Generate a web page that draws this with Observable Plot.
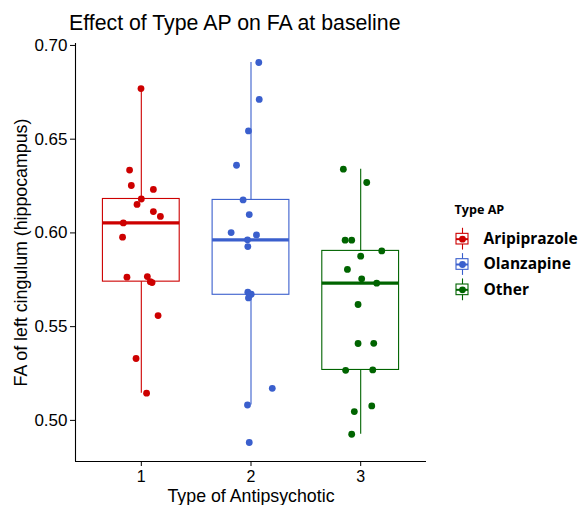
<!DOCTYPE html>
<html><head><meta charset="utf-8">
<script src="https://cdn.jsdelivr.net/npm/d3@7"></script>
<script src="https://cdn.jsdelivr.net/npm/@observablehq/plot@0.6"></script>
<style>
body{margin:0;background:#fff}
#wrap{position:relative;width:585px;height:505px;background:#fff;overflow:hidden}
#main{position:absolute;left:0;top:0;z-index:1}
#legend{position:absolute;left:440px;top:0;z-index:1}
#title{position:absolute;left:69px;top:13px;z-index:2;font-family:"Liberation Sans",Arial,sans-serif;font-size:21.3px;line-height:1;white-space:nowrap;color:#000}
</style></head><body>
<div id="wrap"><div id="main"></div><div id="legend"></div><div id="title">Effect of Type AP on FA at baseline</div></div>
<script>
// categories and codes
const categories = ["Aripiprazole", "Olanzapine", "Other"];
const groupCodes = [1, 2, 3];
const colors = ["#CD0000", "#3A5FCD", "#006400"];
// FA values per group and their horizontal jitter (category units)
const valuesAripiprazole = [0.677, 0.6335, 0.6253, 0.6232, 0.6181, 0.6152, 0.6114, 0.6088, 0.6053, 0.5977, 0.5764, 0.5767, 0.5735, 0.5559, 0.5330, 0.5145, 0.5740];
const jitterAripiprazole = [-0.003, -0.107, -0.091, 0.110, 0.000, -0.039, 0.110, 0.174, -0.164, -0.171, -0.131, 0.055, 0.098, 0.153, -0.048, 0.048, 0.082];
const valuesOlanzapine = [0.6909, 0.6712, 0.6544, 0.6361, 0.6176, 0.6098, 0.6002, 0.5989, 0.5963, 0.5927, 0.5684, 0.5673, 0.5653, 0.5171, 0.5082, 0.4882, 0.5670];
const jitterOlanzapine = [0.071, 0.075, -0.023, -0.132, -0.072, -0.016, -0.181, 0.050, -0.032, -0.029, -0.029, 0.002, -0.023, 0.194, -0.032, -0.016, -0.009];
const valuesOther = [0.6340, 0.6269, 0.5961, 0.5961, 0.5904, 0.5876, 0.5805, 0.5755, 0.5732, 0.5618, 0.5410, 0.5411, 0.5267, 0.5269, 0.5077, 0.5047, 0.4926];
const jitterOther = [-0.158, 0.055, -0.142, -0.082, 0.192, 0.000, -0.121, 0.009, 0.146, -0.024, -0.024, 0.119, -0.137, 0.110, 0.101, -0.058, -0.082];
const yTicks = [0.50, 0.55, 0.60, 0.65, 0.70];
const xTicks = [1, 2, 3];

const groupValues = [valuesAripiprazole, valuesOlanzapine, valuesOther];
const groupJitter = [jitterAripiprazole, jitterOlanzapine, jitterOther];

const points = [];
groupValues.forEach((vals, g) => vals.forEach((v, i) => points.push({category: categories[g], code: groupCodes[g], value: v, jitter: groupJitter[g][i]})));

const stats = [];
groupValues.forEach((vals, g) => {
  const s = vals.slice().sort(d3.ascending);
  const q1 = d3.quantile(s, 0.25), med = d3.quantile(s, 0.5), q3 = d3.quantile(s, 0.75);
  const iqr = q3 - q1;
  const lo = d3.min(s.filter(v => v >= q1 - 1.5 * iqr));
  const hi = d3.max(s.filter(v => v <= q3 + 1.5 * iqr));
  stats.push({category: categories[g], code: groupCodes[g], q1, med, q3, lo, hi});
});

const ext = d3.extent(points, d => d.value);
const pad = (ext[1] - ext[0]) * 0.05;
const yDomain = [ext[0] - pad, ext[1] + pad];
const xDomain = [groupCodes[0] - 0.6, groupCodes[groupCodes.length - 1] + 0.6];
const boxHalf = 0.35;
const dotR = 3.4;

const main = Plot.plot({
  width: 440, height: 505,
  marginLeft: 75, marginRight: 14, marginTop: 43, marginBottom: 44,
  style: {fontFamily: "'Liberation Sans', Arial, sans-serif", background: "transparent", color: "black", overflow: "visible"},
  x: {domain: xDomain, axis: null},
  y: {domain: yDomain, axis: null},
  color: {domain: categories, range: colors},
  marks: [
    Plot.ruleX(stats, {x: "code", y1: "lo", y2: "hi", stroke: "category", strokeWidth: 1.1}),
    Plot.rect(stats, {x1: d => d.code - boxHalf, x2: d => d.code + boxHalf, y1: "q1", y2: "q3", fill: "white", stroke: "category", strokeWidth: 1.1}),
    Plot.ruleY(stats, {y: "med", x1: d => d.code - boxHalf, x2: d => d.code + boxHalf, stroke: "category", strokeWidth: 3.3}),
    Plot.dot(points, {x: d => d.code + d.jitter, y: "value", r: dotR, fill: "category", stroke: null}),
    Plot.ruleX([xDomain[0]], {stroke: "black", strokeWidth: 1.1}),
    Plot.ruleY([yDomain[0]], {stroke: "black", strokeWidth: 1.1}),
    Plot.axisY({ticks: yTicks, tickFormat: d3.format(".2f"), tickSize: 5, tickPadding: 3, fontSize: 17, label: null}),
    Plot.axisX({ticks: xTicks, tickFormat: d => String(d), tickSize: 5, tickPadding: 4, fontSize: 16, label: null}),
    Plot.text(["FA of left cingulum (hippocampus)"], {frameAnchor: "left", rotate: -90, lineAnchor: "top", textAnchor: "middle", dx: -61, fontSize: 17.8, fill: "black"}),
    Plot.text(["Type of Antipsychotic"], {frameAnchor: "bottom", lineAnchor: "top", textAnchor: "middle", dy: 27.5, fontSize: 17.8, fill: "black"})
  ]
});
document.getElementById("main").appendChild(main);

const legend = Plot.plot({
  width: 145, height: 505, margin: 0,
  style: {fontFamily: "'Open Sans', 'Noto Sans', sans-serif", background: "transparent", color: "black", overflow: "visible"},
  x: {domain: [0, 1], range: [16, 28], axis: null},
  y: {domain: [-0.5, categories.length - 0.5], range: [226, 302], axis: null},
  color: {domain: categories, range: colors},
  marks: [
    Plot.ruleX(categories, {x: 0.5, y1: (d, i) => i - 0.43, y2: (d, i) => i + 0.43, stroke: d => d, strokeWidth: 1.1}),
    Plot.rect(categories, {x1: 0, x2: 1, y1: (d, i) => i - 0.21, y2: (d, i) => i + 0.21, fill: "white", stroke: d => d, strokeWidth: 1.1}),
    Plot.ruleY(categories, {y: (d, i) => i, x1: 0, x2: 1, stroke: d => d, strokeWidth: 2}),
    Plot.dot(categories, {x: 0.5, y: (d, i) => i, r: dotR, fill: d => d, stroke: null}),
    Plot.text(categories, {x: 1, y: (d, i) => i, dx: 15, text: d => d, textAnchor: "start", fontSize: 15.5, fontWeight: "bold", fill: "black"}),
    Plot.text(["Type AP"], {frameAnchor: "top-left", dx: 14, dy: 205, lineAnchor: "top", textAnchor: "start", fontSize: 12.6, fontWeight: "bold", fill: "black"})
  ]
});
document.getElementById("legend").appendChild(legend);
</script>
</body></html>
